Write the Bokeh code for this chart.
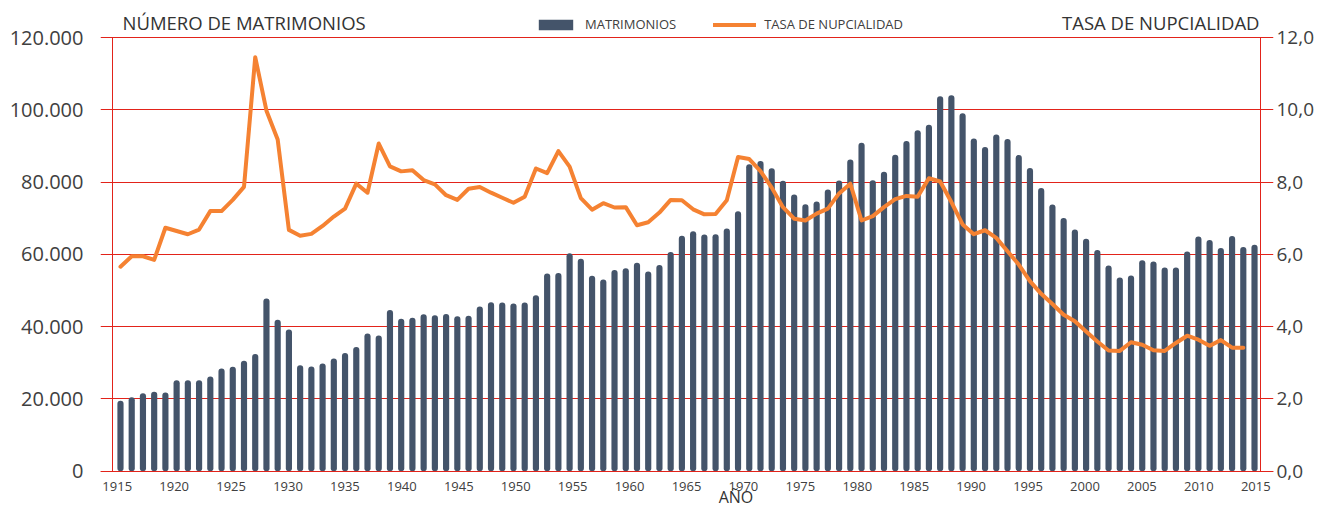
from bokeh.plotting import figure
from bokeh.models import (Range1d, LinearAxis, FixedTicker, Legend, LegendItem, Label)
from bokeh.embed import file_html
from bokeh.resources import INLINE

# ---------------- data ----------------
bar_years = list(range(1914, 2016))          # 102 bar slots
marriages = [
    19500, 20450, 21600, 22000, 21800, 25200, 25200, 25200, 26200, 28450,
    28900, 30550, 32450, 47800, 41900, 39200, 29300, 29000, 29800, 31200,
    32700, 34400, 38100, 37550, 44650, 42200, 42450, 43450, 43200, 43500,
    42900, 43000, 45600, 46800, 46700, 46400, 46700, 48700, 54700, 54850,
    60300, 58800, 54100, 53100, 55700, 56200, 57700, 55300, 57100, 60700,
    65200, 66400, 65500, 65600, 67200, 71950, 85000, 85900, 83850, 80370,
    76570, 73890, 74630, 77960, 80460, 86300, 90930, 80550, 82870, 87590,
    91390, 94350, 95920, 103800, 104070, 99070, 92130, 89720, 93240, 91940,
    87550, 83900, 78370, 73800, 70090, 66940, 64350, 61200, 56940, 53610,
    54160, 58420, 58050, 56390, 56390, 60830, 65000, 63980, 61760, 65090,
    62040, 62690,
]
rate_years = list(range(1914, 2015))         # 101 points
rates = [
    5.66, 5.95, 5.95, 5.85, 6.74, 6.65, 6.56, 6.69, 7.20, 7.20,
    7.51, 7.87, 11.46, 9.98, 9.18, 6.68, 6.52, 6.57, 6.79, 7.05,
    7.27, 7.96, 7.71, 9.07, 8.44, 8.30, 8.33, 8.06, 7.94, 7.64,
    7.51, 7.82, 7.87, 7.71, 7.57, 7.43, 7.60, 8.38, 8.25, 8.86,
    8.43, 7.56, 7.24, 7.42, 7.30, 7.31, 6.81, 6.89, 7.16, 7.51,
    7.50, 7.25, 7.11, 7.12, 7.50, 8.70, 8.64, 8.31, 7.85, 7.31,
    6.99, 6.94, 7.13, 7.27, 7.69, 7.96, 6.94, 7.06, 7.31, 7.53,
    7.62, 7.60, 8.11, 8.02, 7.45, 6.83, 6.56, 6.67, 6.46, 6.09,
    5.72, 5.26, 4.91, 4.63, 4.33, 4.15, 3.87, 3.59, 3.34, 3.33,
    3.57, 3.50, 3.35, 3.33, 3.55, 3.75, 3.64, 3.47, 3.63, 3.42,
    3.42,
]
tick_years = list(range(1915, 2016, 5))
tick_labels = [str(y) for y in tick_years]
y_ticks = [0, 20000, 40000, 60000, 80000, 100000, 120000]
y_labels = ["0", "20.000", "40.000", "60.000", "80.000", "100.000", "120.000"]
rate_ticks = [0, 2, 4, 6, 8, 10, 12]
rate_labels = ["0,0", "2,0", "4,0", "6,0", "8,0", "10,0", "12,0"]

# ---------------- style ----------------
FONT = "Open Sans"
RED = "#E2231A"
BAR = "#44546A"
ORANGE = "#F58232"
TXT = "#404040"
TITLE = "#333333"

# year labels are spread slightly wider than the bar slots in the original
lab_x0, lab_step = 1913.71, 1.014
tick_pos = [lab_x0 + (y - 1915) * lab_step for y in tick_years]
LEFT_LINE_X, RIGHT_LINE_X = 1913.315, 2015.50   # where the two value-axis lines sit

# the frame fills the full height; value axes are bounded to 0..max so the
# header and footer texts can live inside the frame
Y_END, Y_START = 130300, -10600
R_SCALE = 12 / 120000

p = figure(width=1317, height=509, output_backend="svg", toolbar_location=None,
           x_range=Range1d(1912.22, 2016.69), y_range=Range1d(Y_START, Y_END),
           min_border_left=100, min_border_right=43, min_border_top=0,
           min_border_bottom=0)
p.outline_line_color = None
p.background_fill_color = "white"
p.extra_y_ranges = {"rate": Range1d(Y_START * R_SCALE, Y_END * R_SCALE)}

bars = p.vbar(x=bar_years, top=marriages, width=0.55, fill_color=BAR,
              line_color=None, border_radius=3)
line = p.line(x=rate_years, y=rates, y_range_name="rate", line_color=ORANGE,
              line_width=4, line_join="round", line_cap="round")

# x axis, pinned at value 0
xa = p.xaxis[0]
xa.fixed_location = 0
xa.ticker = FixedTicker(ticks=tick_pos)
xa.major_label_overrides = dict(zip(tick_pos, tick_labels))
xa.major_tick_in = 0
xa.major_tick_out = 0
xa.minor_tick_line_color = None
xa.axis_line_color = RED
xa.major_label_standoff = 11
xa.major_label_text_font = FONT
xa.major_label_text_font_size = "13px"
xa.major_label_text_color = TXT

# left value labels (side panel)
ya = p.yaxis[0]
ya.bounds = (0, 120000)
ya.ticker = FixedTicker(ticks=y_ticks)
ya.major_label_overrides = dict(zip(y_ticks, y_labels))
ya.axis_line_color = None
ya.major_tick_line_color = None
ya.major_tick_in = 0
ya.major_tick_out = 0
ya.minor_tick_line_color = None
ya.major_label_standoff = 17
ya.major_label_text_font = FONT
ya.major_label_text_font_size = "20px"
ya.major_label_text_color = TXT

# right value labels (side panel)
ra = LinearAxis(y_range_name="rate", ticker=FixedTicker(ticks=rate_ticks),
                major_label_overrides=dict(zip(rate_ticks, rate_labels)),
                bounds=(0, 12))
ra.axis_line_color = None
ra.major_tick_line_color = None
ra.major_tick_in = 0
ra.major_tick_out = 0
ra.minor_tick_line_color = None
ra.major_label_standoff = 3
ra.major_label_text_font = FONT
ra.major_label_text_font_size = "19px"
ra.major_label_text_color = TXT
p.add_layout(ra, "right")

# the two vertical axis lines inside the frame
la_line = LinearAxis(fixed_location=LEFT_LINE_X, ticker=FixedTicker(ticks=[]),
                     bounds=(0, 120000), axis_line_color=RED,
                     major_tick_line_color=None, minor_tick_line_color=None)
p.add_layout(la_line, "left")
ra_line = LinearAxis(y_range_name="rate", fixed_location=RIGHT_LINE_X,
                     ticker=FixedTicker(ticks=[]), bounds=(0, 12),
                     axis_line_color=RED, major_tick_line_color=None,
                     minor_tick_line_color=None)
p.add_layout(ra_line, "right")

p.xgrid.grid_line_color = None
p.ygrid.ticker = FixedTicker(ticks=y_ticks)
p.ygrid.grid_line_color = RED
p.ygrid.grid_line_width = 1

legend = Legend(items=[LegendItem(label="MATRIMONIOS", renderers=[bars]),
                       LegendItem(label="TASA DE NUPCIALIDAD", renderers=[line])],
                orientation="horizontal", location=(434, 476),
                glyph_width=43, glyph_height=13, label_standoff=8, spacing=37,
                padding=0, margin=0, border_line_color=None,
                background_fill_alpha=0, label_text_font=FONT,
                label_text_font_size="13px", label_height=13,
                label_text_color=TXT)
p.add_layout(legend, "center")

p.add_layout(Label(x=22, y=487.5, x_units="screen", y_units="screen",
                   text="NÚMERO DE MATRIMONIOS", text_font=FONT,
                   text_font_size="18.5px", text_color=TITLE,
                   text_baseline="alphabetic"))
p.add_layout(Label(x=1159, y=487.5, x_units="screen", y_units="screen",
                   text="TASA DE NUPCIALIDAD", text_font=FONT,
                   text_font_size="18.5px", text_color=TITLE,
                   text_align="right", text_baseline="alphabetic"))
p.add_layout(Label(x=635.5, y=13, x_units="screen", y_units="screen",
                   text="AÑO", text_font=FONT, text_font_size="16px",
                   text_color=TITLE, text_align="center",
                   text_baseline="alphabetic"))

open("out.html", "w").write(file_html(p, INLINE))
